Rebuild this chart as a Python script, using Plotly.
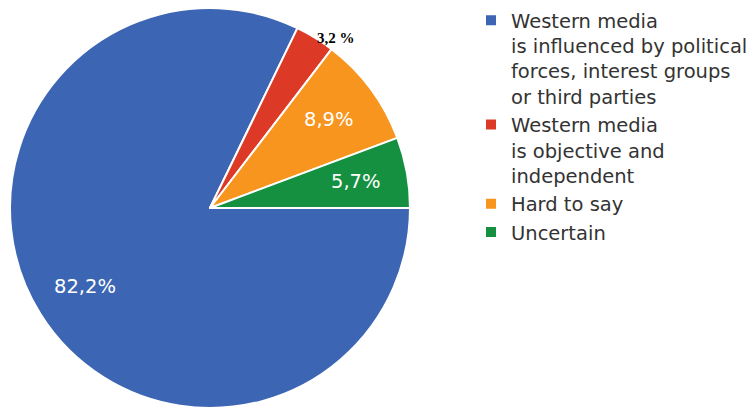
import math
import plotly.graph_objects as go

labels = [
    "Western media<br>is influenced by political<br>forces, interest groups<br>or third parties",
    "Western media<br>is objective and<br>independent",
    "Hard to say",
    "Uncertain",
]
values = [82.2, 3.2, 8.9, 5.7]
colors = ["#3c66b4", "#dc3a26", "#f7951f", "#159040"]
label_texts = ["82,2%", "3,2 %", "8,9%", "5,7%"]
label_outside = [False, True, False, False]

W, H = 754, 407
dom_x = [2 / W, 402 / W]
dom_y = [7 / H, 1]

fig = go.Figure(go.Pie(
    labels=labels,
    values=values,
    sort=False,
    direction="clockwise",
    rotation=90,
    marker=dict(colors=colors, line=dict(color="white", width=2)),
    textinfo="none",
    domain=dict(x=dom_x, y=dom_y),
    hoverinfo="label+percent",
))

# slice label placement derived from the data (mid-angle of each slice)
dw = (dom_x[1] - dom_x[0]) * W
dh = (dom_y[1] - dom_y[0]) * H
cx = (dom_x[0] + dom_x[1]) / 2 * W
cy = dom_y[0] * H + dh / 2  # from bottom
r = min(dw, dh) / 2
total = sum(values)
start = 0.0
annotations = []
for v, txt, outside in zip(values, label_texts, label_outside):
    span = v / total * 360
    mid = -(start + span / 2)  # clockwise from 3 o'clock
    start += span
    rad = math.radians(mid)
    if outside:
        px = cx + r * math.cos(rad)
        py = cy + r * math.sin(rad)
        annotations.append(dict(
            x=px / W, y=py / H, xref="paper", yref="paper", text="<b>" + txt + "</b>",
            showarrow=False, xanchor="left", yanchor="middle",
            font=dict(family="Liberation Serif", size=15, color="black"),
        ))
    else:
        px = cx + 0.74 * r * math.cos(rad)
        py = cy + 0.74 * r * math.sin(rad)
        annotations.append(dict(
            x=px / W, y=py / H, xref="paper", yref="paper", text=txt,
            showarrow=False, xanchor="center", yanchor="middle",
            font=dict(family="DejaVu Sans", size=19.5, color="white"),
        ))

fig.update_layout(
    width=W,
    height=H,
    margin=dict(l=0, r=0, t=0, b=0, autoexpand=False),
    paper_bgcolor="white",
    font=dict(family="DejaVu Sans", size=19.5, color="#333333"),
    showlegend=True,
    annotations=annotations,
    legend=dict(x=463 / W, y=1 - 244 / H, xanchor="left", yanchor="bottom", valign="top",
                font=dict(family="DejaVu Sans", size=19.5, color="#333333"),
                tracegroupgap=0),
)

fig.write_html("out.html")
